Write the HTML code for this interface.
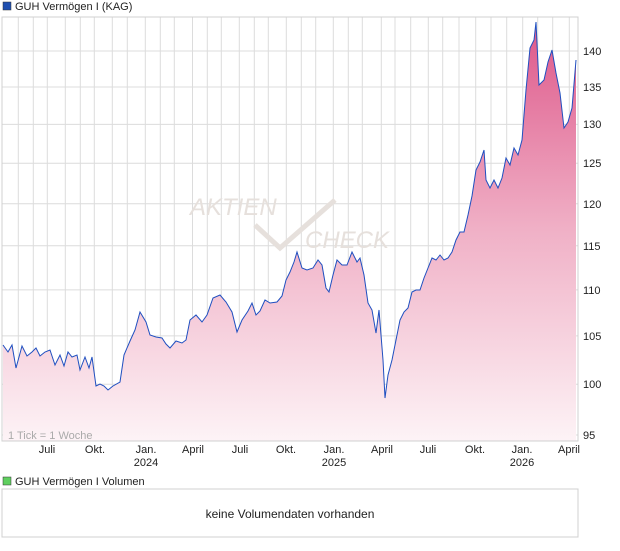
<!DOCTYPE html>
<html><head><meta charset="utf-8"><style>
body{margin:0;background:#fff;font-family:"Liberation Sans",sans-serif;}
</style></head><body>
<svg width="620" height="546" xmlns="http://www.w3.org/2000/svg" font-family="Liberation Sans, sans-serif">
<defs>
<linearGradient id="g" x1="0" y1="17" x2="0" y2="441" gradientUnits="userSpaceOnUse">
<stop offset="0" stop-color="#dd5588"/>
<stop offset="0.5" stop-color="#f0b0c6"/>
<stop offset="1" stop-color="#fdf3f6"/>
</linearGradient>
</defs>
<rect x="3" y="2" width="8" height="8" fill="#1f4fb0" stroke="#333" stroke-width="0.5"/>
<text x="15" y="10" font-size="11" fill="#222">GUH Vermögen I (KAG)</text>
<g stroke="#dcdcdc" stroke-width="1">
<line x1="2" y1="51" x2="578" y2="51"/><line x1="2" y1="87" x2="578" y2="87"/><line x1="2" y1="124.4" x2="578" y2="124.4"/><line x1="2" y1="163.3" x2="578" y2="163.3"/><line x1="2" y1="203.7" x2="578" y2="203.7"/><line x1="2" y1="245.8" x2="578" y2="245.8"/><line x1="2" y1="289.9" x2="578" y2="289.9"/><line x1="2" y1="335.9" x2="578" y2="335.9"/><line x1="2" y1="384.2" x2="578" y2="384.2"/><line x1="2" y1="435" x2="578" y2="435"/>
<line x1="18.3" y1="17" x2="18.3" y2="441"/><line x1="33.3" y1="17" x2="33.3" y2="441"/><line x1="47.3" y1="17" x2="47.3" y2="441"/><line x1="65.3" y1="17" x2="65.3" y2="441"/><line x1="80.3" y1="17" x2="80.3" y2="441"/><line x1="94.3" y1="17" x2="94.3" y2="441"/><line x1="112.3" y1="17" x2="112.3" y2="441"/><line x1="127.3" y1="17" x2="127.3" y2="441"/><line x1="145.3" y1="17" x2="145.3" y2="441"/><line x1="160.3" y1="17" x2="160.3" y2="441"/><line x1="174.3" y1="17" x2="174.3" y2="441"/><line x1="192.5" y1="17" x2="192.5" y2="441"/><line x1="207.3" y1="17" x2="207.3" y2="441"/><line x1="221.3" y1="17" x2="221.3" y2="441"/><line x1="239.3" y1="17" x2="239.3" y2="441"/><line x1="254.3" y1="17" x2="254.3" y2="441"/><line x1="268.3" y1="17" x2="268.3" y2="441"/><line x1="286.3" y1="17" x2="286.3" y2="441"/><line x1="301.3" y1="17" x2="301.3" y2="441"/><line x1="315.7" y1="17" x2="315.7" y2="441"/><line x1="333.3" y1="17" x2="333.3" y2="441"/><line x1="348.3" y1="17" x2="348.3" y2="441"/><line x1="362.3" y1="17" x2="362.3" y2="441"/><line x1="381.3" y1="17" x2="381.3" y2="441"/><line x1="395" y1="17" x2="395" y2="441"/><line x1="410.7" y1="17" x2="410.7" y2="441"/><line x1="428.3" y1="17" x2="428.3" y2="441"/><line x1="442.7" y1="17" x2="442.7" y2="441"/><line x1="459" y1="17" x2="459" y2="441"/><line x1="475.7" y1="17" x2="475.7" y2="441"/><line x1="491" y1="17" x2="491" y2="441"/><line x1="506.7" y1="17" x2="506.7" y2="441"/><line x1="522.7" y1="17" x2="522.7" y2="441"/><line x1="537.7" y1="17" x2="537.7" y2="441"/><line x1="552.7" y1="17" x2="552.7" y2="441"/><line x1="569.3" y1="17" x2="569.3" y2="441"/>
</g>
<text x="190" y="215" font-size="24" fill="#e6e0dc" font-style="italic">AKTIEN</text>
<text x="305" y="248" font-size="24" fill="#e6e0dc" font-style="italic">CHECK</text>
<polyline points="255,225 280,248 335,200" fill="none" stroke="#e6e0dc" stroke-width="5"/>
<polygon fill="url(#g)" points="3,441 3,345 8,352 12,345 16,368 22,346 27,356 32,352 36,348 40,356 45,352 50,350 55,365 60,355 64,366 68,352 72,357 77,355 80,370 85,357 89,368 92,357 96,386 100,384 104,386 108,390 113,386 120,382 124,355 130,341 135,330 140,312 146,322 150,335 156,337 162,338 166,344 170,348 176,341 182,343 186,340 190,320 196,315 202,322 207,315 213,298 220,295 226,302 232,312 237,332 242,320 248,311 252,303 256,315 260,311 265,300 270,303 277,302 282,296 286,280 290,272 294,262 297,252 302,268 307,270 313,268 318,260 322,265 326,288 329,292 333,275 337,260 342,265 347,265 352,252 357,262 360,258 364,275 368,303 372,310 376,333 379,310 383,360 385,398 388,375 392,360 396,340 400,320 404,312 408,308 412,292 416,290 420,290 424,278 428,268 432,258 436,260 440,255 444,260 448,258 452,252 456,240 460,232 464,232 468,215 472,196 476,170 480,162 484,150 486,180 490,188 494,180 498,188 502,178 506,158 510,165 514,148 518,155 522,140 526,90 530,48 534,40 536,22 539,85 544,80 548,62 552,50 556,73 560,93 564,128 568,122 572,108 576,60 576,441"/>
<polyline fill="none" stroke="#1f4fc0" stroke-width="1" points="3,345 8,352 12,345 16,368 22,346 27,356 32,352 36,348 40,356 45,352 50,350 55,365 60,355 64,366 68,352 72,357 77,355 80,370 85,357 89,368 92,357 96,386 100,384 104,386 108,390 113,386 120,382 124,355 130,341 135,330 140,312 146,322 150,335 156,337 162,338 166,344 170,348 176,341 182,343 186,340 190,320 196,315 202,322 207,315 213,298 220,295 226,302 232,312 237,332 242,320 248,311 252,303 256,315 260,311 265,300 270,303 277,302 282,296 286,280 290,272 294,262 297,252 302,268 307,270 313,268 318,260 322,265 326,288 329,292 333,275 337,260 342,265 347,265 352,252 357,262 360,258 364,275 368,303 372,310 376,333 379,310 383,360 385,398 388,375 392,360 396,340 400,320 404,312 408,308 412,292 416,290 420,290 424,278 428,268 432,258 436,260 440,255 444,260 448,258 452,252 456,240 460,232 464,232 468,215 472,196 476,170 480,162 484,150 486,180 490,188 494,180 498,188 502,178 506,158 510,165 514,148 518,155 522,140 526,90 530,48 534,40 536,22 539,85 544,80 548,62 552,50 556,73 560,93 564,128 568,122 572,108 576,60"/>
<rect x="2" y="17" width="576" height="424" fill="none" stroke="#d0d0d0"/>
<text x="8" y="439" font-size="11" fill="#aaa">1 Tick = 1 Woche</text>
<g font-size="11" fill="#222">
<text x="583" y="55">140</text><text x="583" y="91">135</text><text x="583" y="128">130</text><text x="583" y="167">125</text><text x="583" y="208">120</text><text x="583" y="250">115</text><text x="583" y="294">110</text><text x="583" y="340">105</text><text x="583" y="388">100</text><text x="583" y="439">95</text>
</g>
<g font-size="11" fill="#222" text-anchor="middle">
<text x="47" y="453">Juli</text><text x="95" y="453">Okt.</text><text x="146" y="453">Jan.</text><text x="146" y="466">2024</text><text x="193" y="453">April</text><text x="240" y="453">Juli</text><text x="286" y="453">Okt.</text><text x="334" y="453">Jan.</text><text x="334" y="466">2025</text><text x="382" y="453">April</text><text x="428" y="453">Juli</text><text x="475" y="453">Okt.</text><text x="522" y="453">Jan.</text><text x="522" y="466">2026</text><text x="569" y="453">April</text>
</g>
<rect x="3" y="477" width="8" height="8" fill="#5fcf5f" stroke="#333" stroke-width="0.5"/>
<text x="15" y="485" font-size="11" fill="#222">GUH Vermögen I Volumen</text>
<rect x="2" y="489" width="576" height="48" fill="none" stroke="#d0d0d0"/>
<text x="290" y="518" font-size="12" fill="#222" text-anchor="middle">keine Volumendaten vorhanden</text>
</svg>
</body></html>
